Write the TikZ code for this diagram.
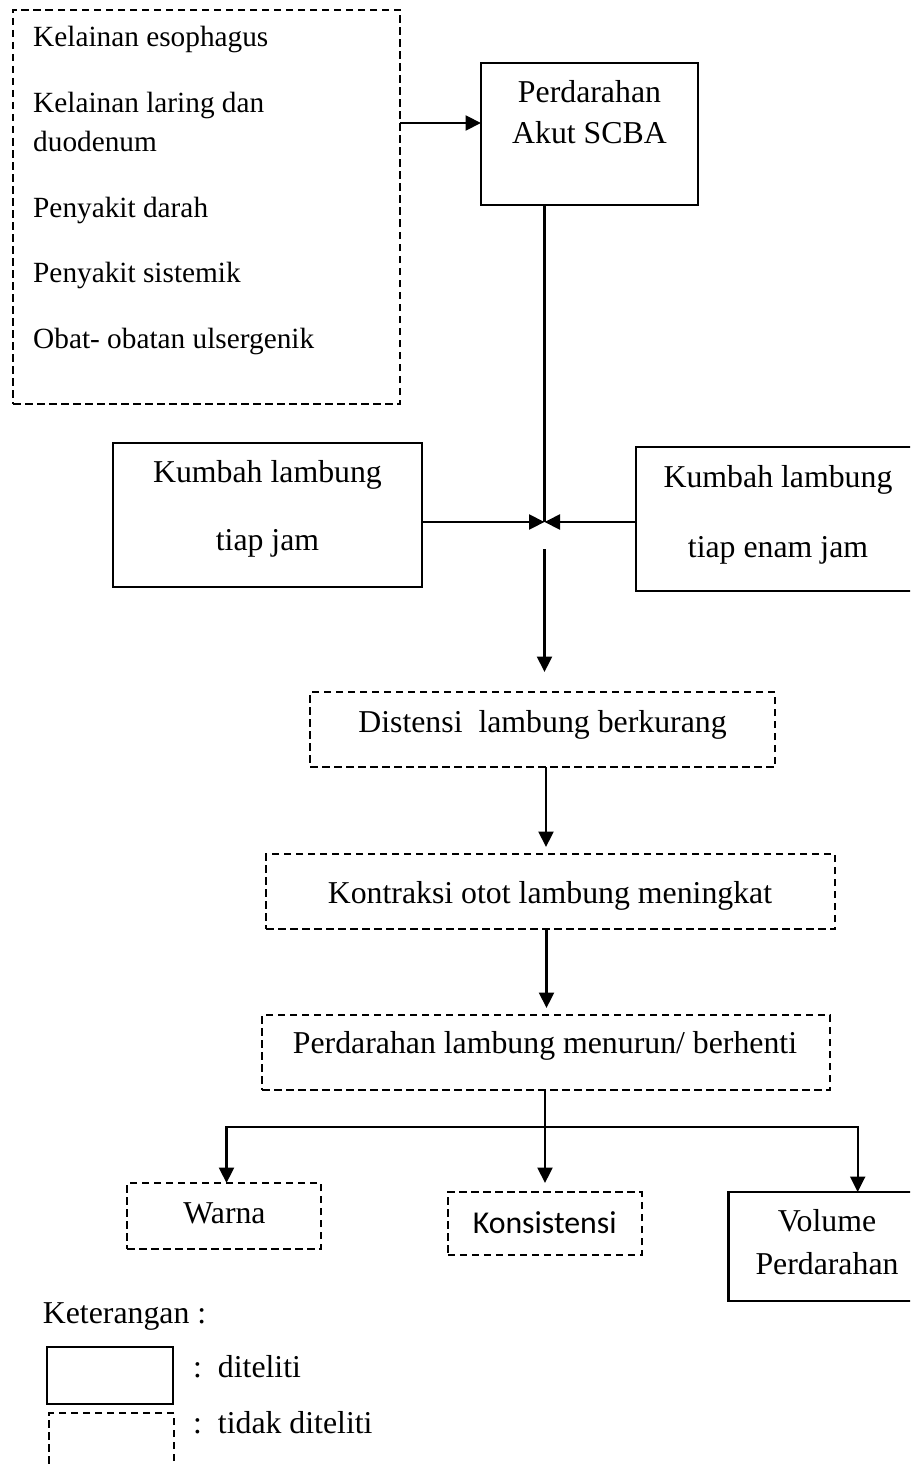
\documentclass[tikz,border=0pt]{standalone}
\usepackage{fontspec}
\setmainfont{Liberation Serif}
\newfontfamily\calibfont{Carlito}
\usetikzlibrary{arrows.meta}
\begin{document}
\begin{tikzpicture}[x=1pt,y=-1pt,
  solidbox/.style={draw=black,line width=2.1pt,inner sep=0pt,outer sep=0pt},
  dashbox/.style={draw=black,line width=1.9pt,dash pattern=on 7.5pt off 4.5pt,inner sep=0pt,outer sep=0pt},
  conn/.style={draw=black,line width=2.1pt},
  arr/.style={conn,-{Triangle[length=15.5pt,width=15pt]}},
  txt/.style={anchor=base,inner sep=0pt,font=\fontsize{31.8pt}{38pt}\selectfont},
  stxt/.style={anchor=base west,inner sep=0pt,font=\fontsize{29.3pt}{35pt}\selectfont},
  ltxt/.style={anchor=base west,inner sep=0pt,font=\fontsize{31.8pt}{38pt}\selectfont}]
\path[use as bounding box] (0,0) rectangle (910,1466);
\clip (0,0) rectangle (910,1466);
\fill[white] (0,0) rectangle (910,1466);

% boxes
\node[dashbox,minimum width=387pt,minimum height=394pt] (causes) at (206.5,207) {};
\node[solidbox,minimum width=217pt,minimum height=142pt] (scba) at (589.5,134) {};
\node[solidbox,minimum width=309pt,minimum height=144pt] (kj) at (267.5,515) {};
\node[solidbox,minimum width=289pt,minimum height=144pt] (kej) at (780.5,519) {};
\node[dashbox,minimum width=465pt,minimum height=75pt] (dist) at (542.5,729.5) {};
\node[dashbox,minimum width=569pt,minimum height=75pt] (kon) at (550.5,891.5) {};
\node[dashbox,minimum width=568pt,minimum height=75pt] (perd) at (546,1052.5) {};
\node[dashbox,minimum width=194pt,minimum height=66pt] (warna) at (224,1216) {};
\node[dashbox,minimum width=194pt,minimum height=63pt] (kons) at (544.8,1223.5) {};
\node[solidbox,minimum width=196.5pt,minimum height=108.7pt] (vol) at (826.75,1246.35) {};
\node[solidbox,minimum width=126pt,minimum height=57pt] (leg1) at (110,1375.5) {};
\node[dashbox,minimum width=125pt,minimum height=67pt] (leg2) at (111.5,1446.5) {};

% texts
\node[stxt] (t1) at (33,47) {Kelainan esophagus};
\node[stxt] (t2) at (33,113) {Kelainan laring dan};
\node[stxt] (t3) at (33,152) {duodenum};
\node[stxt] (t4) at (33,217) {Penyakit darah};
\node[stxt] (t5) at (33,282) {Penyakit sistemik};
\node[stxt] (t6) at (33,348) {Obat- obatan ulsergenik};
\node[txt] (s1) at (589.5,103) {Perdarahan};
\node[txt] (s2) at (589.5,144) {Akut SCBA};
\node[txt] (k1) at (267.5,482) {Kumbah lambung};
\node[txt] (k2) at (267.5,550) {tiap jam};
\node[txt] (e1) at (778,487) {Kumbah lambung};
\node[txt] (e2) at (778,557) {tiap enam jam};
\node[txt] (dt) at (542.5,732) {Distensi\ \ lambung berkurang};
\node[txt] (kt) at (550,903) {Kontraksi otot lambung meningkat};
\node[txt] (pt) at (545,1053) {Perdarahan lambung menurun/ berhenti};
\node[txt] (wt) at (224.5,1223) {Warna};
\node[txt,font=\calibfont\fontsize{31.8pt}{38pt}\selectfont] (kst) at (544.7,1233) {Konsistensi};
\node[txt] (v1) at (827,1231) {Volume};
\node[txt] (v2) at (827,1274) {Perdarahan};
\node[ltxt] (ket) at (42.7,1323) {Keterangan :};
\node[ltxt] (l1) at (193,1377) {:\ \ diteliti};
\node[ltxt] (l2) at (193,1433) {:\ \ tidak diteliti};

% connectors
\coordinate (r1) at (0,123);
\draw[arr] (causes.east |- r1) -- (scba.west |- r1);
\coordinate (jn) at (544.5,522);
\draw[conn] (jn |- scba.south) -- (jn);
\draw[arr] (kj.east |- jn) -- (jn);
\draw[arr] (kej.west |- jn) -- (jn);
\coordinate (d0) at (544.5,549);
\coordinate (d1) at (544.5,672);
\draw[arr] (d0) -- (d1);
\coordinate (c2) at (546,847);
\draw[arr] (c2 |- dist.south) -- (c2);
\coordinate (c3) at (546.5,1008);
\draw[arr] (c3 |- kon.south) -- (c3);
\coordinate (sp) at (545,1127);
\coordinate (wl) at (226.5,1127);
\coordinate (vr) at (857.7,1127);
\coordinate (ke) at (545,1183);
\draw[conn] (sp |- perd.south) -- (sp);
\draw[arr] (sp) -- (ke);
\draw[arr] (sp) -| (wl |- warna.north);
\draw[arr] (sp) -| (vr |- vol.north);
\end{tikzpicture}
\end{document}
